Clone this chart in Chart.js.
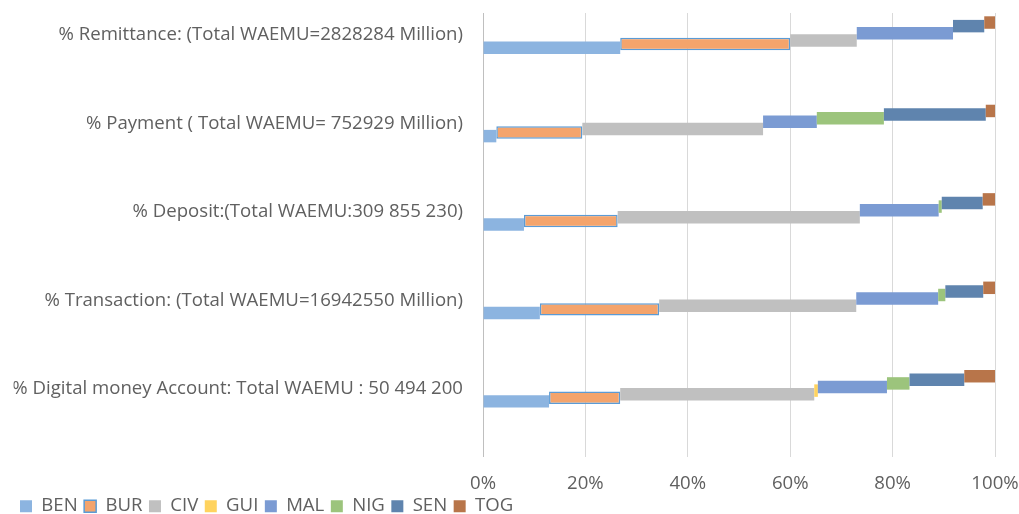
<!DOCTYPE html>
<html>
<head>
<meta charset="utf-8">
<script src="https://cdn.jsdelivr.net/npm/chart.js@4/dist/chart.umd.min.js"></script>
<style>
  html, body { margin: 0; padding: 0; background: #fff; overflow: hidden; }
  #wrap { width: 1019px; height: 514px; }
</style>
</head>
<body>
<div id="wrap"><canvas id="chart"></canvas></div>
<script>
// categories, from top to bottom
const categories = [
    '% Remittance: (Total WAEMU=2828284 Million)',
    '% Payment ( Total WAEMU= 752929 Million)',
    '% Deposit:(Total WAEMU:309 855 230)',
    '% Transaction: (Total WAEMU=16942550 Million)',
    '% Digital money Account: Total WAEMU : 50 494 200'
];
const countries = ['BEN', 'BUR', 'CIV', 'GUI', 'MAL', 'NIG', 'SEN', 'TOG'];

// share of each country (%), same order as categories
const BEN = [26.8, 2.6, 8.0, 11.1, 12.9];
const BUR = [33.2, 16.8, 18.3, 23.3, 13.9];
const CIV = [13.0, 35.3, 47.3, 38.5, 37.9];
const GUI = [0, 0, 0, 0, 0.7];
const MAL = [18.8, 10.5, 15.4, 16.0, 13.5];
const NIG = [0, 13.1, 0.6, 1.4, 4.4];
const SEN = [6.1, 19.9, 8.0, 7.4, 10.7];
const TOG = [2.1, 1.8, 2.4, 2.3, 6.0];

const xTicks = [0, 20, 40, 60, 80, 100];

const series = [BEN, BUR, CIV, GUI, MAL, NIG, SEN, TOG];
const colors = ['#8cb4e0', '#f4a46c', '#c0c0c0', '#ffd35e', '#7b9bd3', '#9cc47c', '#5f84ae', '#b8754a'];

// cumulative segments -> floating bars, each country in its own slot
const offsets = categories.map(() => 0);
const datasets = countries.map((name, k) => {
    const data = series[k].map((v, i) => {
        const a = offsets[i];
        offsets[i] += v;
        return { y: i, x: [a, a + v] };
    });
    return {
        label: name,
        data: data,
        backgroundColor: colors[k],
        borderColor: name === 'BUR' ? '#5b9bd5' : colors[k],
        borderWidth: name === 'BUR' ? 1.5 : 0,
        borderSkipped: false,
        categoryPercentage: 0.325,
        barPercentage: 3.47
    };
}).reverse(); // TOG first so that BEN lands at the bottom of each group

const textColor = '#606060';
const fontFamily = 'Open Sans';

new Chart(document.getElementById('chart').getContext('2d'), {
    type: 'bar',
    data: { datasets: datasets },
    options: {
        indexAxis: 'y',
        responsive: true,
        maintainAspectRatio: false,
        animation: false,
        layout: { padding: { left: 13.5, right: 24, top: 13, bottom: -11.5 } },
        scales: {
            x: {
                type: 'linear',
                min: 0,
                max: 100,
                afterBuildTicks: s => { s.ticks = xTicks.map(v => ({ value: v })); },
                afterFit: s => { s.height = 33.5; s.paddingLeft = 0; s.paddingRight = 0; },
                grid: { color: '#d9d9d9', drawTicks: false },
                border: { display: false },
                ticks: {
                    padding: 15.5,
                    color: textColor,
                    font: { family: fontFamily, size: 18.6 },
                    callback: v => v + '%'
                }
            },
            y: {
                type: 'linear',
                reverse: true,
                offset: false,
                min: -0.25,
                max: 4.77,
                afterBuildTicks: s => { s.ticks = categories.map((c, i) => ({ value: i })); },
                afterFit: s => { s.width = 469.5; s.paddingTop = 0; s.paddingBottom = 0; },
                grid: { display: false, drawTicks: false, offset: false },
                border: { display: true, color: '#bfbfbf', width: 1 },
                ticks: {
                    padding: 20,
                    autoSkip: false,
                    color: textColor,
                    font: { family: fontFamily, size: 18.6 },
                    callback: v => categories[v] || ''
                }
            }
        },
        plugins: {
            tooltip: { enabled: false },
            legend: {
                position: 'bottom',
                align: 'start',
                reverse: true,
                labels: {
                    boxWidth: 12,
                    boxHeight: 12,
                    padding: 6.5,
                    color: textColor,
                    font: { family: fontFamily, size: 18.6 }
                }
            }
        }
    }
});
</script>
</body>
</html>
